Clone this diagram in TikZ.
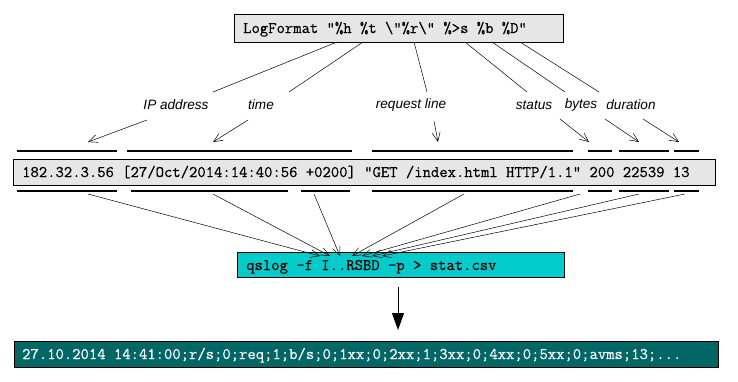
\documentclass[tikz,border=0pt]{standalone}
\usepackage{fontspec}
\newfontfamily\lblfont{Liberation Sans}
\newfontfamily\mymono[FakeBold=0.5]{Latin Modern Mono}
\usetikzlibrary{arrows.meta}
\definecolor{boxgray}{HTML}{E6E6E6}
\definecolor{qcyan}{HTML}{00CCCC}
\definecolor{dteal}{HTML}{006666}
\begin{document}
\begin{tikzpicture}[x=1pt,y=-1pt,
  box/.style={draw=black, line width=1pt, inner sep=0pt, rectangle},
  mono/.style={inner sep=0pt, font=\fontsize{16.2}{16}\selectfont\mymono},
  lbl/.style={inner sep=0pt, font=\fontsize{13.6}{14}\selectfont\lblfont\itshape},
  thin/.style={line width=0.5pt},
  barb/.style={line width=0.5pt, -{Straight Barb[length=9pt,width=8pt]}},
  bar/.style={line width=1.2pt}
]
\useasboundingbox (0,0) rectangle (738,381);
\fill[white] (0,0) rectangle (738,381);

% boxes
\node[box, fill=boxgray, minimum width=329pt, minimum height=28pt] (fmt) at (398.5,28) {};
\node[mono, anchor=base west] (fmttxt) at (243,33) {LogFormat "\%h \%t \textbackslash"\%r\textbackslash" \%>s \%b \%D"};

\node[box, fill=boxgray, minimum width=702pt, minimum height=26pt] (log) at (364,172) {};
\node[mono, anchor=base west] (logtxt) at (22,177) {182.32.3.56 [27/Oct/2014:14:40:56 +0200] "GET /index.html HTTP/1.1" 200 22539 13};

\node[box, fill=qcyan, minimum width=327pt, minimum height=25pt] (qs) at (400.5,264.5) {};
\node[mono, anchor=base west] (qstxt) at (246,270) {qslog -f I..RSBD -p > stat.csv};

\node[box, fill=dteal, minimum width=704pt, minimum height=26pt] (out) at (366,354) {};
\node[mono, anchor=base west, text=white] (outtxt) at (22,359) {27.10.2014 14:41:00;r/s;0;req;1;b/s;0;1xx;0;2xx;1;3xx;0;4xx;0;5xx;0;avms;13;...};

% labels
\node[lbl] (lip) at (176,105) {IP address};
\node[lbl] (ltime) at (261,105) {time};
\node[lbl] (lreq) at (411,105) {request line};
\node[lbl] (lstat) at (534,105) {status};
\node[lbl] (lbytes) at (581,105) {bytes};
\node[lbl] (ldur) at (631,105) {duration};

% lines from format box to labels
\foreach \a/\b in {337/213, 363/289, 414/427, 465/527, 492/565, 520/599}{
  \coordinate (fs) at (\a,42);
  \coordinate (fe) at (\b,92);
  \draw[thin] (fs) -- (fe);
}

% label arrows to upper bars
\foreach \a/\b/\c/\d in {147/120/88/142, 248/120/213/142, 434/121/438/142, 560/119/589/142, 605/119/639/142, 643/119/679/142}{
  \coordinate (ls) at (\a,\b);
  \coordinate (le) at (\c,\d);
  \draw[barb] (ls) -- (le);
}

% upper bars
\foreach \a/\b in {17/117, 127/352, 372/573, 588/612, 619/669, 674/699}{
  \coordinate (ba) at (\a,151);
  \coordinate (bb) at (\b,151);
  \draw[bar] (ba) -- (bb);
}
% lower bars
\foreach \a/\b in {17/117, 131/288, 301/350, 372/573, 588/612, 619/669, 674/699}{
  \coordinate (ba) at (\a,191);
  \coordinate (bb) at (\b,191);
  \draw[bar] (ba) -- (bb);
}

% lower arrows into qslog box
\foreach \a/\b in {88/320, 213/330, 314/340, 464/352, 580/362, 639/372, 685/382}{
  \coordinate (ds) at (\a,194);
  \coordinate (de) at (\b,256);
  \draw[barb] (ds) -- (de);
}

% big arrow
\coordinate (ba1) at (398,287);
\coordinate (ba2) at (398,330);
\draw[line width=1pt, -{Triangle[length=17pt,width=12pt]}] (ba1) -- (ba2);
\end{tikzpicture}
\end{document}
